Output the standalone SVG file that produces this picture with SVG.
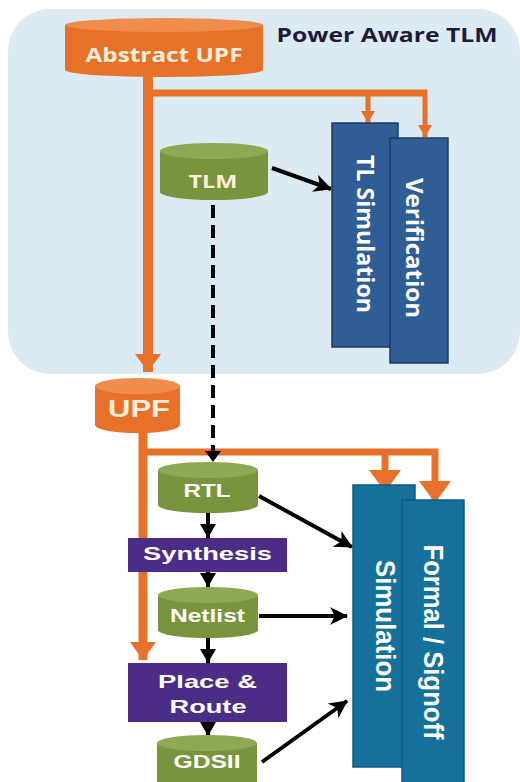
<svg xmlns="http://www.w3.org/2000/svg" width="520" height="782" viewBox="0 0 520 782">
<defs>
<style>
.bg{fill:#dceaf3}
.orBody{fill:#e8712a}
.orTop{fill:#f08c4c}
.grBody{fill:#78943c}
.grTop{fill:#8ea955}
.purple{fill:#4b2c86}
.blueTop{fill:#2f5d95;stroke:#1c3a66;stroke-width:1.5}
.blueBot{fill:#16709c;stroke:#0f5a80;stroke-width:1.5}
.t{font-family:"Open Sans","Liberation Sans",sans-serif;font-weight:700;text-anchor:middle}
.h{font-family:"Liberation Sans","Open Sans",sans-serif;font-weight:700;text-anchor:middle}
.white{fill:#ffffff}
.cream{fill:#fbeedb}
.orLine{fill:none;stroke:#e8712a;stroke-linecap:butt}
.blk{fill:none;stroke:#000;stroke-width:4}
</style>
<marker id="oSmall" markerUnits="userSpaceOnUse" markerWidth="14" markerHeight="12" viewBox="0 0 14 12" refX="7" refY="12" orient="0">
<path d="M0,0 L14,0 L7,12 Z" fill="#e8712a"/>
</marker>
<marker id="oBig" markerUnits="userSpaceOnUse" markerWidth="32" markerHeight="22" viewBox="0 0 32 22" refX="16" refY="22" orient="0">
<path d="M0,0 L32,0 L16,22 Z" fill="#e8712a"/>
</marker>
<marker id="oMain" markerUnits="userSpaceOnUse" markerWidth="26" markerHeight="18" viewBox="0 0 26 18" refX="13" refY="18" orient="0">
<path d="M0,0 L26,0 L13,18 Z" fill="#e8712a"/>
</marker>
<marker id="bArr" markerUnits="userSpaceOnUse" markerWidth="18" markerHeight="18" viewBox="0 0 18 18" refX="17" refY="9" orient="auto">
<path d="M0,0 L18,9 L0,18 L5,9 Z" fill="#000"/>
</marker>
<marker id="bTri" markerUnits="userSpaceOnUse" markerWidth="16" markerHeight="16" viewBox="0 0 16 16" refX="14" refY="8" orient="auto">
<path d="M0,0 L14,8 L0,16 Z" fill="#000"/>
</marker>
</defs>

<rect class="bg" x="8" y="9" width="512" height="365" rx="42" ry="42"/>

<g id="connectors">
  <path class="orLine" d="M148,76 V372" stroke-width="10" marker-end="url(#oMain)"/>
  <path class="orLine" d="M148,93 H427" stroke-width="7"/>
  <path class="orLine" d="M368,93 V123" stroke-width="5" marker-end="url(#oSmall)"/>
  <path class="orLine" d="M425,90 V137" stroke-width="5" marker-end="url(#oSmall)"/>
  <path class="orLine" d="M143,430 V660" stroke-width="9" marker-end="url(#oMain)"/>
  <path class="orLine" d="M143,452 H438" stroke-width="7"/>
  <path class="orLine" d="M385,452 V492" stroke-width="7" marker-end="url(#oBig)"/>
  <path class="orLine" d="M435,449 V503" stroke-width="7" marker-end="url(#oBig)"/>
  <path class="blk" d="M272,168 L331,189" stroke-width="5" marker-end="url(#bArr)"/>
  <path class="blk" d="M213,205 V459" stroke-dasharray="13 7" stroke-width="4.5"/>
  <path d="M205,451 L221,451 L213,462 Z" fill="#000"/>
  <path class="blk" d="M208,513 V538" marker-end="url(#bTri)"/>
  <path class="blk" d="M208,572 V587" marker-end="url(#bTri)"/>
  <path class="blk" d="M208,638 V663" marker-end="url(#bTri)"/>
  <path class="blk" d="M208,722 V736" marker-end="url(#bTri)"/>
  <path class="blk" d="M259,496 L352,547" marker-end="url(#bArr)"/>
  <path class="blk" d="M259,616 L347,616" marker-end="url(#bArr)"/>
  <path class="blk" d="M262,762 L347,701" marker-end="url(#bArr)"/>
</g>

<text class="t" x="387" y="42" font-size="19" fill="#1c1c3a" textLength="221" lengthAdjust="spacingAndGlyphs">Power Aware TLM</text>

<g id="abstract-upf">
  <path class="orBody" d="M65,25 V70 A99,7 0 0 0 263,70 V25 Z"/>
  <ellipse class="orTop" cx="164" cy="25" rx="99" ry="7"/>
  <text class="t cream" x="164" y="62" font-size="19" textLength="157" lengthAdjust="spacingAndGlyphs">Abstract UPF</text>
</g>

<g id="tlm">
  <path class="grBody" d="M160,151 V192 A54,8 0 0 0 268,192 V151 Z"/>
  <ellipse class="grTop" cx="214" cy="151" rx="54" ry="8"/>
  <text class="t cream" x="213" y="188" font-size="17" textLength="49" lengthAdjust="spacingAndGlyphs">TLM</text>
</g>

<g id="tl-simulation">
  <rect class="blueTop" x="332" y="123" width="66" height="224"/>
  <text class="t white" font-size="23" transform="translate(366,234) rotate(90)" dominant-baseline="central" textLength="158" lengthAdjust="spacingAndGlyphs">TL Simulation</text>
</g>

<g id="verification">
  <rect class="blueTop" x="390" y="138" width="58" height="225"/>
  <text class="t white" font-size="23" transform="translate(415,248) rotate(90)" dominant-baseline="central" textLength="140" lengthAdjust="spacingAndGlyphs">Verification</text>
</g>

<g id="upf">
  <path class="orBody" d="M95,386 V425 A42.5,8 0 0 0 180,425 V386 Z"/>
  <ellipse class="orTop" cx="137.5" cy="386" rx="42.5" ry="8"/>
  <text class="h cream" x="139" y="417" font-size="23" textLength="62" lengthAdjust="spacingAndGlyphs">UPF</text>
</g>

<g id="rtl">
  <path class="grBody" d="M158,470 V505 A50,8 0 0 0 258,505 V470 Z"/>
  <ellipse class="grTop" cx="208" cy="470" rx="50" ry="8"/>
  <text class="h white" x="207" y="497" font-size="18" textLength="47" lengthAdjust="spacingAndGlyphs">RTL</text>
</g>

<g id="synthesis">
  <rect class="purple" x="128" y="538" width="159" height="34"/>
  <text class="h white" x="207.5" y="560" font-size="19" textLength="129" lengthAdjust="spacingAndGlyphs">Synthesis</text>
</g>

<g id="netlist">
  <path class="grBody" d="M158,595 V630 A50,8 0 0 0 258,630 V595 Z"/>
  <ellipse class="grTop" cx="208" cy="595" rx="50" ry="8"/>
  <text class="h white" x="207.5" y="622" font-size="18" textLength="75" lengthAdjust="spacingAndGlyphs">Netlist</text>
</g>

<g id="place-route">
  <rect class="purple" x="128" y="663" width="159" height="59"/>
  <text class="h white" x="207.5" y="688" font-size="19" textLength="99" lengthAdjust="spacingAndGlyphs">Place &amp;</text>
  <text class="h white" x="208" y="713" font-size="19" textLength="77" lengthAdjust="spacingAndGlyphs">Route</text>
</g>

<g id="gdsii">
  <path class="grBody" d="M157,743 V786 A50,8 0 0 0 257,786 V743 Z"/>
  <ellipse class="grTop" cx="207" cy="743" rx="50" ry="8"/>
  <text class="h white" x="207" y="768" font-size="18" textLength="67" lengthAdjust="spacingAndGlyphs">GDSII</text>
</g>

<g id="simulation">
  <rect class="blueBot" x="353" y="485" width="62" height="282"/>
  <text class="h white" font-size="28" transform="translate(385,626) rotate(90)" dominant-baseline="central" textLength="132" lengthAdjust="spacingAndGlyphs">Simulation</text>
</g>

<g id="formal-signoff">
  <rect class="blueBot" x="402" y="500" width="62" height="290"/>
  <text class="h white" font-size="28" transform="translate(433,642) rotate(90)" dominant-baseline="central" textLength="195" lengthAdjust="spacingAndGlyphs">Formal / Signoff</text>
</g>
</svg>
